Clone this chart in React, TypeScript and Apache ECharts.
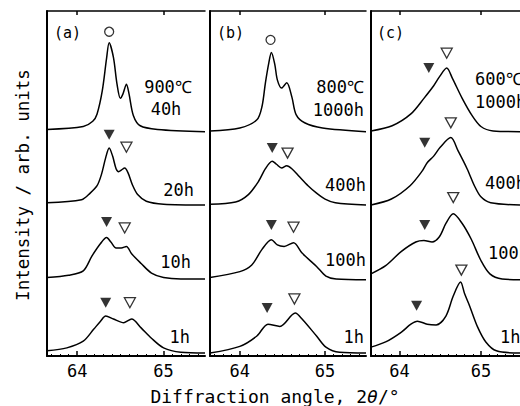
import React, { useEffect, useRef } from "react";
import * as echarts from "echarts";

// ---- axis ranges ----
const X_MIN = 63.65;
const X_MAX = 65.48;
const Y_MAX = 466;
const MAJOR_TICKS = [64, 65];
const MINOR_TICKS = [63.7, 63.8, 63.9, 64.1, 64.2, 64.3, 64.4, 64.5, 64.6, 64.7, 64.8, 64.9, 65.1, 65.2, 65.3, 65.4];
// vertical offsets of the stacked profiles (top row first)
const ROW_BASE = [303, 204, 103, 4];

// ---- panel (a) 900 °C ----
const a_40h = [[63.65,3],[64.07,7],[64.18,14],[64.23,24],[64.29,55],[64.34,99],[64.37,120],[64.42,100],[64.46,65],[64.50,45],[64.53,51],[64.57,64],[64.60,51],[64.65,22],[64.73,8],[64.93,3],[65.48,0]];
const a_20h = [[63.65,3],[64.05,7],[64.15,16],[64.23,26],[64.28,41],[64.33,64],[64.37,77],[64.41,66],[64.45,49],[64.48,45],[64.51,47],[64.55,50],[64.59,43],[64.64,27],[64.70,14],[64.80,5],[65.0,1],[65.48,0]];
const a_10h = [[63.65,3],[63.9,6],[64.07,12],[64.17,32],[64.27,49],[64.34,57],[64.39,51],[64.45,43],[64.51,43],[64.57,45],[64.63,35],[64.74,22],[64.86,9],[65.0,3],[65.2,1],[65.48,1]];
const a_1h = [[63.65,3],[63.88,7],[64.07,16],[64.19,32],[64.27,43],[64.33,50],[64.42,46],[64.54,41],[64.63,46],[64.74,34],[64.86,20],[65.0,7],[65.2,1],[65.48,0]];

// ---- panel (b) 800 °C ----
const b_1000h = [[63.65,1],[64.0,5],[64.20,16],[64.26,34],[64.30,66],[64.34,93],[64.37,107],[64.41,91],[64.44,70],[64.49,59],[64.55,66],[64.61,47],[64.66,23],[64.76,12],[64.97,5],[65.48,0]];
const b_400h = [[63.65,1],[63.95,4],[64.10,14],[64.22,32],[64.30,49],[64.38,59],[64.43,55],[64.49,50],[64.55,53],[64.61,49],[64.70,38],[64.80,26],[64.90,16],[65.0,8],[65.12,3],[65.48,0]];
const b_100h = [[63.65,3],[64.0,11],[64.14,20],[64.26,41],[64.37,54],[64.44,47],[64.52,45],[64.63,50],[64.73,36],[64.90,18],[65.01,5],[65.13,1],[65.48,0]];
const b_1h = [[63.65,0],[64.0,9],[64.20,23],[64.33,39],[64.47,36],[64.65,54],[64.73,46],[64.90,23],[65.01,8],[65.17,1],[65.48,0]];

// ---- panel (c) 600 °C ----
const c_1000h = [[63.65,1],[63.91,8],[64.14,24],[64.30,45],[64.42,62],[64.49,74],[64.58,86],[64.65,72],[64.77,45],[64.89,22],[65.0,7],[65.15,1],[65.48,0]];
const c_400h = [[63.65,0],[63.90,8],[64.13,26],[64.28,46],[64.34,57],[64.42,66],[64.50,78],[64.63,91],[64.72,73],[64.83,49],[64.92,26],[65.0,11],[65.12,3],[65.48,0]];
const c_100h = [[63.65,8],[63.83,19],[64.02,38],[64.20,51],[64.30,53],[64.40,51],[64.49,58],[64.57,76],[64.66,89],[64.77,76],[64.88,55],[65.0,26],[65.11,8],[65.26,1],[65.48,0]];
const c_1h = [[63.65,8],[63.83,15],[64.02,28],[64.14,39],[64.22,43],[64.34,39],[64.45,38],[64.57,50],[64.66,77],[64.75,96],[64.80,80],[64.86,64],[64.96,35],[65.06,15],[65.19,3],[65.48,0]];

// ---- peak markers [2θ, height] ----
const a_circle = [[64.37,438]];
const a_filled = [[64.37,299],[64.34,181],[64.33,72]];
const a_open = [[64.57,282],[64.55,173],[64.61,72]];
const b_circle = [[64.36,427]];
const b_filled = [[64.38,281],[64.37,177],[64.32,65]];
const b_open = [[64.56,274],[64.63,174],[64.64,77]];
const c_circle: number[][] = [];
const c_filled = [[64.36,389],[64.31,288],[64.31,177],[64.21,68]];
const c_open = [[64.58,409],[64.63,315],[64.66,214],[64.76,116]];

const PANELS = [
  { curves: [a_40h, a_20h, a_10h, a_1h], circle: a_circle, filled: a_filled, open: a_open },
  { curves: [b_1000h, b_400h, b_100h, b_1h], circle: b_circle, filled: b_filled, open: b_open },
  { curves: [c_1000h, c_400h, c_100h, c_1h], circle: c_circle, filled: c_filled, open: c_open },
];

const GRIDS = [
  { left: 47, width: 158 },
  { left: 210, width: 156 },
  { left: 371, width: 158 },
];

const FONT = "'DejaVu Sans Mono', 'Liberation Mono', monospace";

function txt(text: string, x: number, y: number, align: string, size = 17) {
  return {
    type: "text",
    x,
    y,
    style: { text, fill: "#000", font: `${size}px ${FONT}`, textAlign: align, textVerticalAlign: "middle" },
  };
}

export default function App() {
  const ref = useRef<HTMLDivElement>(null);
  useEffect(() => {
    if (!ref.current) return;
    const chart = echarts.init(ref.current, null, { renderer: "svg" });
    const xAxis: any[] = [];
    const yAxis: any[] = [];
    const series: any[] = [];
    GRIDS.forEach((g, i) => {
      xAxis.push({
        gridIndex: i, type: "value", min: X_MIN, max: X_MAX, position: "bottom",
        axisLine: { show: true, onZero: false, lineStyle: { color: "#000", width: 2 } },
        axisTick: { show: true, inside: true, length: 5, customValues: MAJOR_TICKS, lineStyle: { color: "#000", width: 1.5 } },
        axisLabel: { show: true, customValues: MAJOR_TICKS, margin: 6, color: "#000", fontSize: 17, fontFamily: FONT },
        splitLine: { show: false },
      });
      xAxis.push({
        gridIndex: i, type: "value", min: X_MIN, max: X_MAX, position: "bottom",
        axisLine: { show: false },
        axisTick: { show: true, inside: true, length: 2, customValues: MINOR_TICKS, lineStyle: { color: "#000", width: 1 } },
        axisLabel: { show: false },
        splitLine: { show: false },
      });
      xAxis.push({
        gridIndex: i, type: "value", min: X_MIN, max: X_MAX, position: "top",
        axisLine: { show: true, onZero: false, lineStyle: { color: "#000", width: 1.5 } },
        axisTick: { show: true, inside: true, length: 4, customValues: MAJOR_TICKS, lineStyle: { color: "#000", width: 1.5 } },
        axisLabel: { show: false },
        splitLine: { show: false },
      });
      yAxis.push({
        gridIndex: i, type: "value", min: 0, max: Y_MAX,
        axisLine: { show: true, onZero: false, lineStyle: { color: "#000", width: 2 } },
        axisTick: { show: false }, axisLabel: { show: false }, splitLine: { show: false },
      });
      const p = PANELS[i];
      p.curves.forEach((c, r) => {
        series.push({
          type: "line", xAxisIndex: i * 3, yAxisIndex: i, showSymbol: false, smooth: 0.3,
          lineStyle: { color: "#000", width: 1.5 },
          data: c.map(([x, v]) => [x, v + ROW_BASE[r]]),
        });
      });
      series.push({
        type: "scatter", xAxisIndex: i * 3, yAxisIndex: i, symbol: "triangle", symbolRotate: 180,
        symbolSize: [11, 10], itemStyle: { color: "#000" }, data: p.filled,
      });
      series.push({
        type: "scatter", xAxisIndex: i * 3, yAxisIndex: i, symbol: "triangle", symbolRotate: 180,
        symbolSize: [11, 10], itemStyle: { color: "#fff", borderColor: "#000", borderWidth: 1.3 }, data: p.open,
      });
      series.push({
        type: "scatter", xAxisIndex: i * 3, yAxisIndex: i, symbol: "circle",
        symbolSize: 9, itemStyle: { color: "#fff", borderColor: "#000", borderWidth: 1.3 }, data: p.circle,
      });
    });

    const graphic: any[] = [
      txt("(a)", 54, 33, "left", 15),
      txt("(b)", 217, 33, "left", 15),
      txt("(c)", 377, 33, "left", 15),
      txt("900℃", 168, 87, "center"),
      txt("40h", 166, 109, "center"),
      txt("20h", 194, 190, "right"),
      txt("10h", 191, 262, "right"),
      txt("1h", 190, 337, "right"),
      txt("800℃", 364, 87, "right"),
      txt("1000h", 364, 110, "right"),
      txt("400h", 366, 185, "right"),
      txt("100h", 366, 260, "right"),
      txt("1h", 364, 337, "right"),
      txt("600℃", 475, 79, "left"),
      txt("1000h", 475, 102, "left"),
      txt("400h", 485, 183, "left"),
      txt("100h", 488, 253, "left"),
      txt("1h", 500, 337, "left"),
      {
        type: "text", x: 275, y: 396,
        style: {
          text: "{n|Diffraction angle, 2}{i|θ}{n|/°}",
          textAlign: "center", textVerticalAlign: "middle",
          rich: {
            n: { fontSize: 18, fontFamily: FONT, color: "#000" },
            i: { fontSize: 18, fontFamily: FONT, fontStyle: "italic", color: "#000" },
          },
        },
      },
      {
        type: "text", x: 23, y: 185, rotation: Math.PI / 2,
        style: { text: "Intensity / arb. units", fill: "#000", font: `17.5px ${FONT}`, textAlign: "center", textVerticalAlign: "middle" },
      },
    ];

    chart.setOption({
      animation: false,
      backgroundColor: "#fff",
      grid: GRIDS.map((g) => ({ left: g.left, width: g.width, top: 11, height: 345 })),
      xAxis,
      yAxis,
      series,
      graphic,
    });
    return () => chart.dispose();
  }, []);
  return <div ref={ref} style={{ position: "absolute", left: 0, top: 0, width: 520, height: 406, background: "#fff" }} />;
}
